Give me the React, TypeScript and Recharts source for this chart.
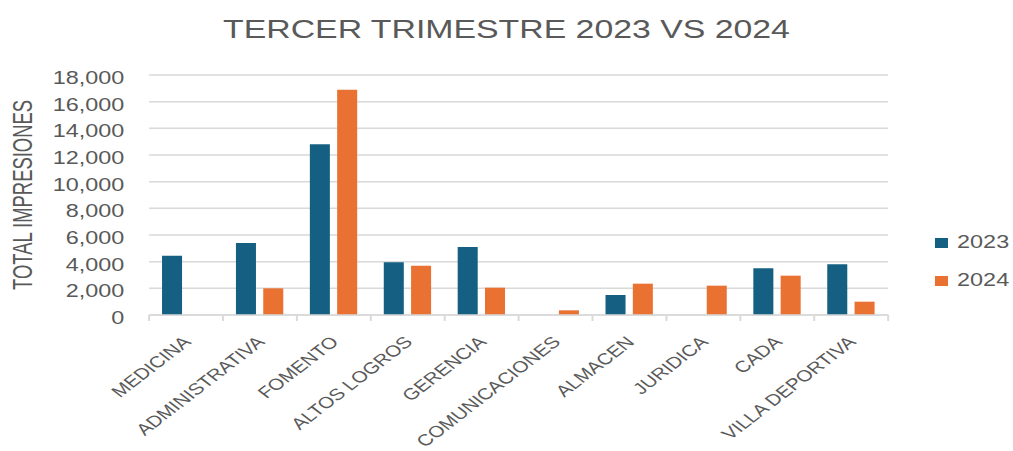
import { Bar, BarChart, CartesianGrid, XAxis, YAxis } from "recharts"

const categories = [
  "MEDICINA",
  "ADMINISTRATIVA",
  "FOMENTO",
  "ALTOS LOGROS",
  "GERENCIA",
  "COMUNICACIONES",
  "ALMACEN",
  "JURIDICA",
  "CADA",
  "VILLA DEPORTIVA",
]
const values2023 = [4450, 5400, 12800, 3950, 5100, 0, 1500, 0, 3500, 3800]
const values2024 = [0, 2000, 16900, 3700, 2050, 350, 2350, 2200, 2950, 1000]
const yTicks = [0, 2000, 4000, 6000, 8000, 10000, 12000, 14000, 16000, 18000]
const seriesNames = ["2023", "2024"]

const data = categories.map((name, i) => ({
  name,
  y2023: values2023[i],
  y2024: values2024[i],
}))

// the reference is stretched sideways, so the chart is drawn narrower and scaled up
const OUT_W = 1013
const W = 779
const SX = OUT_W / W
const H = 451

const BLUE = "#156082"
const ORANGE = "#E97132"
const GRID = "#d9d9d9"
const TEXT = "#595959"
const FONT = "'Liberation Sans', Arial, sans-serif"

const YTick = ({ x, y, payload }: any) => (
  <text
    x={x}
    y={y}
    dy={9}
    textAnchor="end"
    fontSize={18}
    fontFamily={FONT}
    fill={TEXT}
  >
    {Number(payload.value).toLocaleString("en-US")}
  </text>
)

const XTick = ({ x, y, payload, index }: any) => {
  const half = payload.offset ?? 28.4
  const lx = x + 4.6
  const ly = y + 28
  return (
    <g>
      <line x1={x - half} x2={x - half} y1={y} y2={y + 6} stroke={GRID} strokeWidth={1.5} />
      {index === categories.length - 1 && (
        <line x1={x + half} x2={x + half} y1={y} y2={y + 6} stroke={GRID} strokeWidth={1.5} />
      )}
      <text
        x={lx}
        y={ly}
        transform={`rotate(-45, ${lx}, ${ly})`}
        textAnchor="end"
        fontSize={16}
        fontFamily={FONT}
        fill={TEXT}
      >
        {payload.value}
      </text>
    </g>
  )
}

const YLabel = () => (
  <text
    x={17}
    y={195}
    transform="rotate(-90, 17, 195)"
    textAnchor="middle"
    dominantBaseline="central"
    fontSize={21}
    fontFamily="'Liberation Sans Narrow', 'Arial Narrow', 'Liberation Sans', sans-serif"
    textLength={190}
    lengthAdjust="spacingAndGlyphs"
    fill={TEXT}
  >
    TOTAL IMPRESIONES
  </text>
)

const LegendBox = () => (
  <div style={{ position: "absolute", left: 719, top: 223.7, fontFamily: FONT }}>
    {seriesNames.map((s, i) => (
      <div key={s} style={{ display: "flex", alignItems: "center", height: 38 }}>
        <span
          style={{
            width: 10,
            height: 10,
            background: i === 0 ? BLUE : ORANGE,
            marginRight: 7,
          }}
        />
        <span style={{ fontSize: 18, color: TEXT }}>{s}</span>
      </div>
    ))}
  </div>
)

export default function App() {
  return (
    <div
      style={{
        position: "absolute",
        left: 0,
        top: 0,
        width: W,
        height: H,
        background: "#fff",
        transform: `scaleX(${SX})`,
        transformOrigin: "0 0",
      }}
    >
      <div
        style={{
          position: "absolute",
          left: 0,
          top: 15.7,
          width: W,
          textAlign: "center",
          fontFamily: FONT,
          fontSize: 26,
          lineHeight: "26px",
          color: TEXT,
          whiteSpace: "nowrap",
        }}
      >
        TERCER TRIMESTRE 2023 VS 2024
      </div>
      <BarChart
        width={W}
        height={H}
        data={data}
        margin={{ top: 75, right: 96, bottom: 106, left: 34.6 }}
        barSize={15.4}
        barGap={5.6}
      >
        <CartesianGrid vertical={false} stroke={GRID} strokeWidth={1.5} />
        <XAxis
          dataKey="name"
          height={30}
          interval={0}
          axisLine={{ stroke: GRID, strokeWidth: 1.5 }}
          tickLine={false}
          tickSize={0}
          tickMargin={0}
          tick={<XTick />}
        />
        <YAxis
          width={80}
          domain={[0, 18000]}
          ticks={yTicks}
          axisLine={false}
          tickLine={false}
          tickSize={0}
          tickMargin={19}
          tick={<YTick />}
          label={<YLabel />}
        />
        <Bar dataKey="y2023" name="2023" fill={BLUE} isAnimationActive={false} />
        <Bar dataKey="y2024" name="2024" fill={ORANGE} isAnimationActive={false} />
      </BarChart>
      <LegendBox />
    </div>
  )
}
